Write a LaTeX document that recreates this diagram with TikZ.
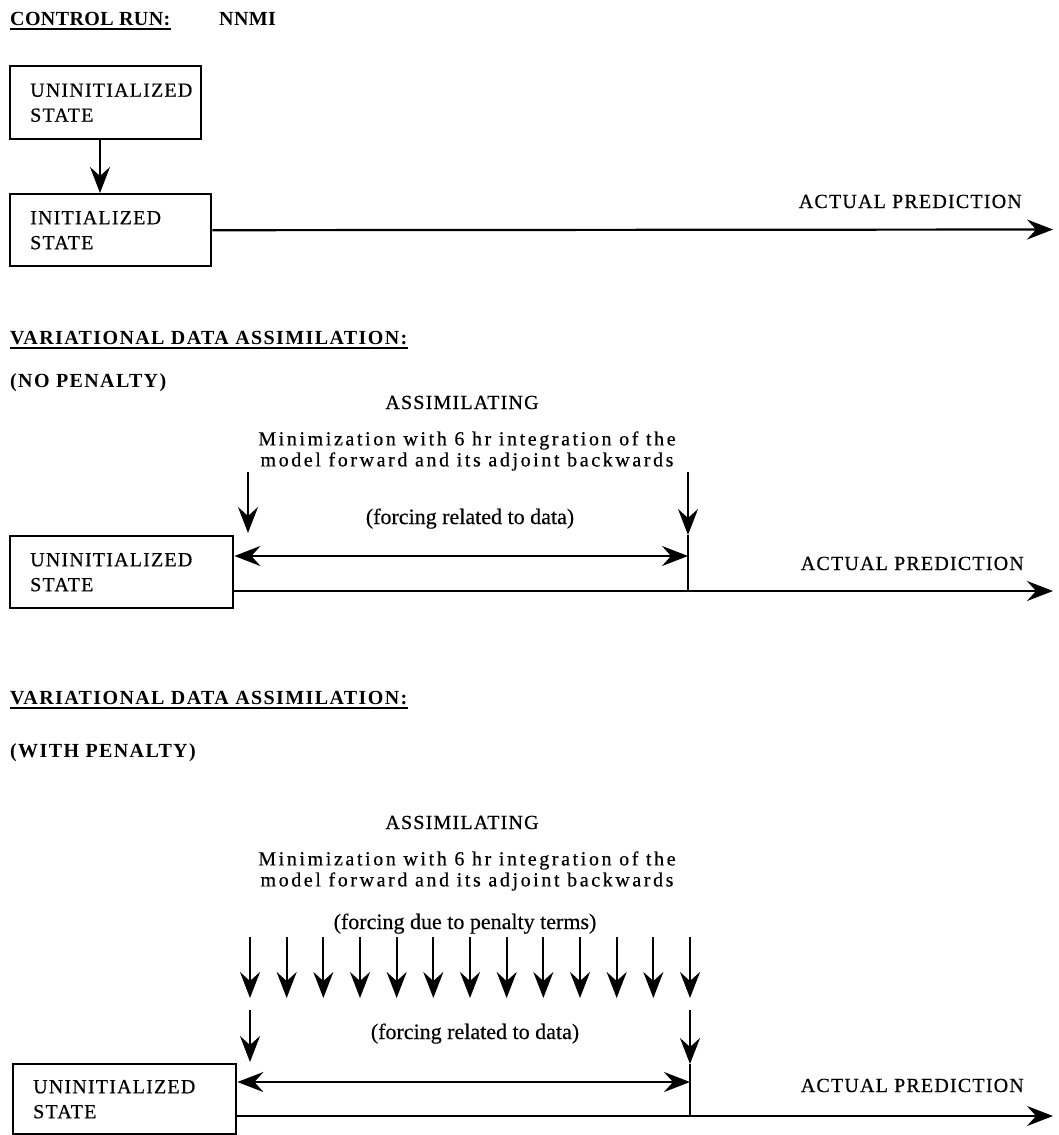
\documentclass[tikz,border=0pt]{standalone}
\usepackage{fontspec}
\setmainfont{Liberation Serif}
\newfontfamily\capsf[LetterSpace=6,FakeBold=0.6]{Liberation Serif}
\newfontfamily\headf[LetterSpace=7]{Liberation Serif}
\newfontfamily\headg[LetterSpace=2]{Liberation Serif}
\newfontfamily\minf[LetterSpace=13,FakeBold=0.5]{Liberation Serif}
\newfontfamily\plainf[FakeBold=0.4]{Liberation Serif}
\usetikzlibrary{arrows.meta}
\tikzset{
  box/.style={draw, line width=2.4pt, rectangle, inner xsep=0pt, inner ysep=0pt, align=left,
    font=\capsf\fontsize{20}{25}\selectfont, anchor=north west},
  lbl/.style={font=\capsf\fontsize{20}{25}\selectfont, inner sep=0pt},
  head/.style={font=\headf\bfseries\fontsize{20}{24}\selectfont, inner sep=0pt, anchor=base west},
  headb/.style={font=\headg\bfseries\fontsize{20}{24}\selectfont, inner sep=0pt, anchor=base west},
  mini/.style={font=\minf\fontsize{20}{21}\selectfont, inner sep=0pt, align=center},
  plain/.style={font=\plainf\fontsize{22}{26}\selectfont, inner sep=0pt, anchor=base},
  conn/.style={line width=2.2pt},
  tipS/.tip={Stealth[length=26pt,width=20pt,inset=9pt]},
  arr/.style={conn, -tipS},
  darr/.style={conn, tipS-tipS},
  uline/.style={line width=1.8pt},
}
\begin{document}
\begin{tikzpicture}[x=1pt,y=-1pt]
\useasboundingbox (0,0) rectangle (1058,1135);

% ---------- CONTROL RUN ----------
\node[headb] (h1) at (10,25) {CONTROL RUN:};
\draw[uline] ([yshift=-4pt]h1.base west) -- ([yshift=-4pt]h1.base east);
\node[headb] (h1b) at (219,25) {NNMI};
\node[box, text width=191pt, minimum height=73pt] (b1) at (9,65) {\hspace*{20pt}UNINITIALIZED\\\hspace*{20pt}STATE};
\node[box, text width=201pt, minimum height=72pt] (b2) at (9,193) {\hspace*{20pt}INITIALIZED\\\hspace*{20pt}STATE};
\draw[arr] (b1.south -| 100,0) -- (b2.north -| 100,0);
\coordinate (e1) at (1053,229.5);
\draw[arr] (b2.east) -- (e1);
\node[lbl, anchor=base east] (ap1) at (1022,208) {ACTUAL PREDICTION};

% ---------- VARIATIONAL, NO PENALTY ----------
\node[head] (h2) at (10,344) {VARIATIONAL DATA ASSIMILATION:};
\draw[uline] ([yshift=-4pt]h2.base west) -- ([yshift=-4pt]h2.base east);
\node[head] (h2b) at (10,387) {(NO PENALTY)};
\node[lbl, anchor=base] (as2) at (462,409) {ASSIMILATING};
\node[mini] (min2) at (467,451) {Minimization with 6 hr integration of the\\model forward and its adjoint backwards};
\node[plain] (fr2) at (470,524) {(forcing related to data)};
\node[box, text width=223pt, minimum height=72pt] (b3) at (9,535) {\hspace*{20pt}UNINITIALIZED\\\hspace*{20pt}STATE};
\node[lbl, anchor=base east] (ap2) at (1024,570) {ACTUAL PREDICTION};
\coordinate (l2t) at (248,472); \coordinate (l2b) at (248,533);
\coordinate (r2t) at (688,472); \coordinate (r2b) at (688,535);
\coordinate (m2) at (688,556); \coordinate (j2) at (688,591);
\coordinate (e2) at (1053,591);
\draw[arr] (l2t) -- (l2b);
\draw[arr] (r2t) -- (r2b);
\draw[conn] (r2b) -- (j2);
\draw[darr] (b3.east |- m2) -- (m2);
\draw[arr] (b3.east |- j2) -- (e2);

% ---------- VARIATIONAL, WITH PENALTY ----------
\node[head] (h3) at (10,704) {VARIATIONAL DATA ASSIMILATION:};
\draw[uline] ([yshift=-4pt]h3.base west) -- ([yshift=-4pt]h3.base east);
\node[head] (h3b) at (10,757) {(WITH PENALTY)};
\node[lbl, anchor=base] (as3) at (462,829) {ASSIMILATING};
\node[mini] (min3) at (467,871) {Minimization with 6 hr integration of the\\model forward and its adjoint backwards};
\node[plain] (fp3) at (465,929) {(forcing due to penalty terms)};
\foreach \i in {0,...,12} {
  \coordinate (p\i) at ({250+\i*36.667},937);
  \draw[arr] (p\i) -- ++(0,61);
}
\node[plain] (fr3) at (475,1039) {(forcing related to data)};
\node[box, text width=223pt, minimum height=70pt] (b4) at (12,1063) {\hspace*{20pt}UNINITIALIZED\\\hspace*{20pt}STATE};
\node[lbl, anchor=base east] (ap3) at (1024,1092) {ACTUAL PREDICTION};
\coordinate (l3t) at (250,1010); \coordinate (l3b) at (250,1062);
\coordinate (r3t) at (690,1010); \coordinate (r3b) at (690,1064);
\coordinate (m3) at (690,1082); \coordinate (j3) at (690,1116);
\coordinate (e3) at (1053,1116);
\draw[arr] (l3t) -- (l3b);
\draw[arr] (r3t) -- (r3b);
\draw[conn] (r3b) -- (j3);
\draw[darr] (b4.east |- m3) -- (m3);
\draw[arr] (b4.east |- j3) -- (e3);
\end{tikzpicture}
\end{document}
